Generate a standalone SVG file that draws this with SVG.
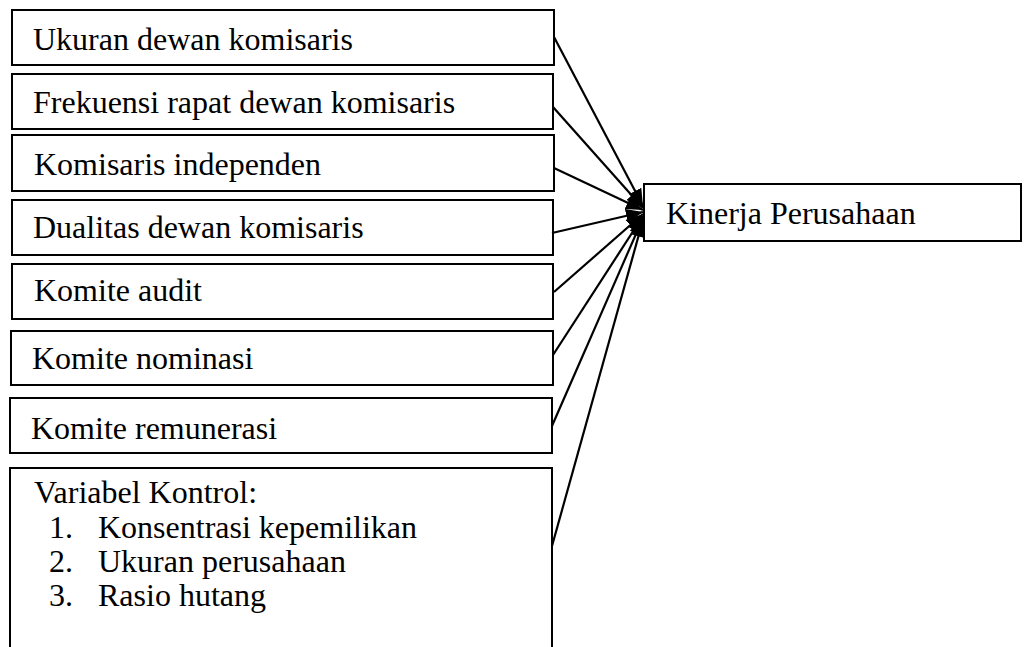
<svg xmlns="http://www.w3.org/2000/svg" width="1024" height="647" viewBox="0 0 1024 647">
  <defs>
    <style>
      .box { fill: #ffffff; stroke: #000000; stroke-width: 2; }
      .lbl { font-family: "Liberation Serif", "Times New Roman", serif; font-size: 32px; fill: #000000; }
      .edge { stroke: #000000; stroke-width: 2.2; fill: none; marker-end: url(#head); }
    </style>
    <marker id="head" markerUnits="userSpaceOnUse" markerWidth="18" markerHeight="14" refX="17" refY="7" orient="auto">
      <path d="M0,0 L17,7 L0,14 Z" fill="#000000"/>
    </marker>
  </defs>
  <rect width="1024" height="647" fill="#ffffff"/>

  <g id="ukuran-dewan">
    <rect class="box" x="12" y="10" width="542" height="55"/>
    <text class="lbl" x="33" y="50">Ukuran dewan komisaris</text>
  </g>
  <g id="frekuensi-rapat">
    <rect class="box" x="12" y="74" width="541" height="55"/>
    <text class="lbl" x="33" y="113">Frekuensi rapat dewan komisaris</text>
  </g>
  <g id="komisaris-independen">
    <rect class="box" x="12" y="135" width="542" height="56"/>
    <text class="lbl" x="34" y="175">Komisaris independen</text>
  </g>
  <g id="dualitas">
    <rect class="box" x="12" y="200" width="541" height="55"/>
    <text class="lbl" x="33" y="238">Dualitas dewan komisaris</text>
  </g>
  <g id="komite-audit">
    <rect class="box" x="12" y="264" width="541" height="55"/>
    <text class="lbl" x="34" y="301">Komite audit</text>
  </g>
  <g id="komite-nominasi">
    <rect class="box" x="11" y="331" width="542" height="54"/>
    <text class="lbl" x="32" y="369">Komite nominasi</text>
  </g>
  <g id="komite-remunerasi">
    <rect class="box" x="10" y="398" width="542" height="55"/>
    <text class="lbl" x="31" y="439">Komite remunerasi</text>
  </g>
  <g id="variabel-kontrol">
    <rect class="box" x="10" y="468" width="542" height="190"/>
    <text class="lbl" x="34" y="503">Variabel Kontrol:</text>
    <text class="lbl" x="49" y="538">1.</text>
    <text class="lbl" x="98" y="538">Konsentrasi kepemilikan</text>
    <text class="lbl" x="49" y="572">2.</text>
    <text class="lbl" x="98" y="572">Ukuran perusahaan</text>
    <text class="lbl" x="49" y="606">3.</text>
    <text class="lbl" x="98" y="606">Rasio hutang</text>
  </g>
  <g id="kinerja-perusahaan">
    <rect class="box" x="644" y="184" width="377" height="57"/>
    <text class="lbl" x="666" y="224">Kinerja Perusahaan</text>
  </g>

  <g id="connectors">
    <line class="edge" x1="554" y1="37" x2="643" y2="206"/>
    <line class="edge" x1="553" y1="107" x2="643" y2="208"/>
    <line class="edge" x1="554" y1="168" x2="643" y2="210"/>
    <line class="edge" x1="552" y1="233" x2="643" y2="212"/>
    <line class="edge" x1="554" y1="292" x2="643" y2="214"/>
    <line class="edge" x1="553" y1="355" x2="643" y2="216"/>
    <line class="edge" x1="552" y1="426" x2="643" y2="218"/>
    <line class="edge" x1="552" y1="546" x2="643" y2="220"/>
  </g>
</svg>
